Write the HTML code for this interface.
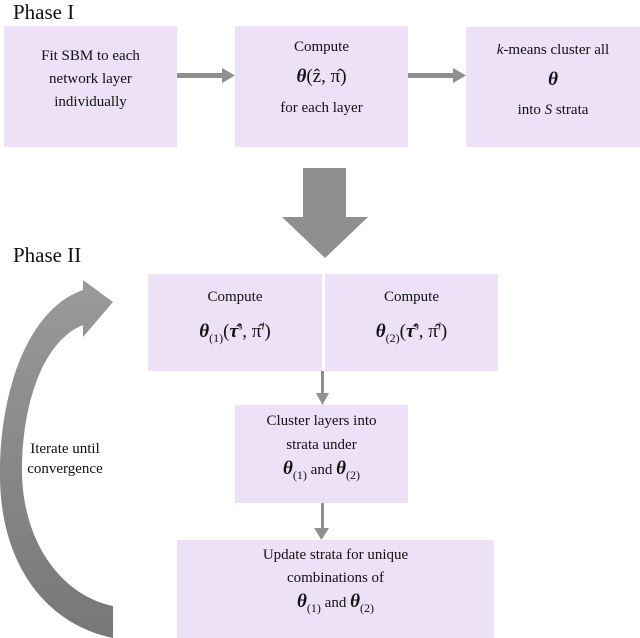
<!DOCTYPE html>
<html><head><meta charset="utf-8"><style>
body{margin:0;background:#fff;}
#c{position:relative;width:640px;height:638px;overflow:hidden;font-family:"Liberation Serif","DejaVu Serif",serif;color:#111;}
.b{position:absolute;background:#ece1f7;box-sizing:border-box;text-align:center;font-size:15px;line-height:27px;}
.t{position:absolute;font-size:21px;}
.m{font-size:19px;font-weight:bold;font-style:italic;}
.n{font-size:19px;}
sub{font-size:12px;font-style:normal;font-weight:normal;}
</style></head><body><div id="c">
<div class="t" style="left:13px;top:0px">Phase I</div>
<div class="t" style="left:13px;top:243px">Phase II</div>
<div class="b" style="left:4px;top:26px;width:173px;height:121px;padding-top:19px;line-height:23px">Fit SBM to each<br>network layer<br>individually</div>
<div class="b" style="left:235px;top:26px;width:173px;height:121px;padding-top:6px;line-height:30px">Compute<br><span class="m">θ</span><span class="n">(ẑ, π̂)</span><br>for each layer</div>
<div class="b" style="left:466px;top:27px;width:174px;height:120px;padding-top:9px;line-height:29px"><i>k</i>-means cluster all<br><span class="m">θ</span><br>into <i>S</i> strata</div>
<div class="b" style="left:148px;top:274px;width:174px;height:97px;padding-top:8px;line-height:30px">Compute<br><span class="m">θ<sub>(1)</sub></span><span class="n">(<b><i>τ̂</i></b><sup style="font-size:11px">s</sup>, π̂<sup style="font-size:11px"><i>l</i></sup>)</span></div>
<div class="b" style="left:325px;top:274px;width:173px;height:97px;padding-top:8px;line-height:30px">Compute<br><span class="m">θ<sub>(2)</sub></span><span class="n">(<b><i>τ̂</i></b><sup style="font-size:11px">s</sup>, π̂<sup style="font-size:11px"><i>l</i></sup>)</span></div>
<div class="b" style="left:235px;top:405px;width:173px;height:98px;padding-top:4px;line-height:24px">Cluster layers into<br>strata under<br><span class="m">θ<sub>(1)</sub></span> and <span class="m">θ<sub>(2)</sub></span></div>
<div class="b" style="left:177px;top:540px;width:317px;height:98px;padding-top:4px;line-height:23px">Update strata for unique<br>combinations of<br><span class="m">θ<sub>(1)</sub></span> and <span class="m">θ<sub>(2)</sub></span></div>
<svg width="640" height="638" style="position:absolute;left:0;top:0">
<defs><linearGradient id="g" x1="0" y1="0" x2="0" y2="1"><stop offset="0" stop-color="#9a9a9a"/><stop offset="1" stop-color="#777"/></linearGradient></defs>
<g fill="#8f8f8f">
<rect x="177" y="73" width="48" height="5"/><polygon points="222,68 235,75.5 222,83"/>
<rect x="408" y="73" width="48" height="5"/><polygon points="453,68 466,75.5 453,83"/>
<rect x="303" y="168" width="43" height="50"/><polygon points="282,217 368,217 325,258"/>
<rect x="321" y="371" width="3" height="24"/><polygon points="316,393 329,393 322.5,405"/>
<rect x="321" y="503" width="3" height="26"/><polygon points="314,528 329,528 321.5,540"/>
</g>
<path fill="url(#g)" d="M113,638 C50,625 2,570 0,480 C-2,400 25,310 83,290 L83,280 L113,302 L83,337 L83,325 C45,340 22,400 22,470 C22,540 60,595 113,606 Z"/>
</svg>
<div style="position:absolute;left:0;top:439px;width:130px;text-align:center;font-size:15px;line-height:20px">Iterate until<br>convergence</div>
</div></body></html>
